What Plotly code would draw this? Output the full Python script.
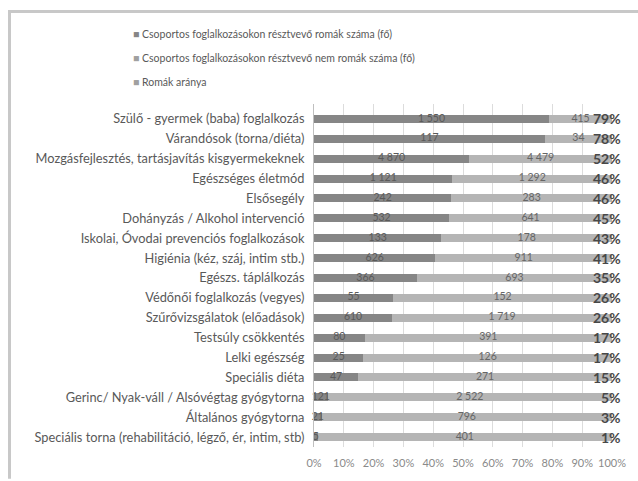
import plotly.graph_objects as go

# Programme types (top to bottom)
categories = [
    "Szülő - gyermek (baba) foglalkozás",
    "Várandósok (torna/diéta)",
    "Mozgásfejlesztés, tartásjavítás kisgyermekeknek",
    "Egészséges életmód",
    "Elsősegély",
    "Dohányzás / Alkohol intervenció",
    "Iskolai, Óvodai prevenciós foglalkozások",
    "Higiénia (kéz, száj, intim stb.)",
    "Egészs. táplálkozás",
    "Védőnői foglalkozás (vegyes)",
    "Szűrővizsgálatok (előadások)",
    "Testsúly csökkentés",
    "Lelki egészség",
    "Speciális diéta",
    "Gerinc/ Nyak-váll / Alsóvégtag gyógytorna",
    "Általános gyógytorna",
    "Speciális torna (rehabilitáció, légző, ér, intim, stb)",
]

# Participants in group sessions (persons)
roma_count = [1550, 117, 4870, 1121, 242, 532, 133, 626, 366, 55, 610, 80, 25, 47, 121, 21, 5]
non_roma_count = [415, 34, 4479, 1292, 283, 641, 178, 911, 693, 152, 1719, 391, 126, 271, 2522, 796, 401]

# Share of Roma participants (%)
roma_share = [79, 78, 52, 46, 46, 45, 43, 41, 35, 26, 26, 17, 17, 15, 5, 3, 1]

series_names = [
    "Csoportos foglalkozásokon résztvevő romák száma (fő)",
    "Csoportos foglalkozásokon résztvevő nem romák száma (fő)",
    "Romák aránya",
]

tick_values = [0, 10, 20, 30, 40, 50, 60, 70, 80, 90, 100]
tick_labels = ["0%", "10%", "20%", "30%", "40%", "50%", "60%", "70%", "80%", "90%", "100%"]

DARK = "#868686"
LIGHT = "#b5b5b5"
SHARE = "#a0a0a0"
TEXT = "#595959"
FONT = "Lato"


def fmt(v):
    return f"{v:,}".replace(",", " ")


totals = [a + b for a, b in zip(roma_count, non_roma_count)]
# centre of each stacked segment on the 0-100 % scale
roma_mid = [50 * a / t for a, t in zip(roma_count, totals)]
non_roma_mid = [100 * (a + b / 2) / t for a, b, t in zip(roma_count, non_roma_count, totals)]

fig = go.Figure()
fig.add_trace(go.Bar(
    y=categories, x=roma_count, orientation="h", name=series_names[0],
    marker=dict(color=DARK, line=dict(width=0)), showlegend=False,
))
fig.add_trace(go.Bar(
    y=categories, x=non_roma_count, orientation="h", name=series_names[1],
    marker=dict(color=LIGHT, line=dict(width=0)), showlegend=False,
))

# Count labels centred in each segment
fig.add_trace(go.Scatter(
    x=roma_mid, y=categories, mode="text", text=[fmt(v) for v in roma_count],
    textposition="middle center", cliponaxis=False, hoverinfo="skip",
    textfont=dict(size=10.5, color="#5a5a5a", family=FONT), showlegend=False,
))
fig.add_trace(go.Scatter(
    x=non_roma_mid, y=categories, mode="text", text=[fmt(v) for v in non_roma_count],
    textposition="middle center", cliponaxis=False, hoverinfo="skip",
    textfont=dict(size=10.5, color="#666666", family=FONT), showlegend=False,
))

# Share labels at the right end of each bar
annotations = []
for cat, share in zip(categories, roma_share):
    annotations.append(dict(
        x=1.0, xref="paper", y=cat, yref="y", xanchor="right", yanchor="middle",
        xshift=11, text=f"<b>{share}%</b>", showarrow=False,
        font=dict(size=14, color="#484848", family=FONT),
    ))

# Legend block
legend_colors = [DARK, SHARE, SHARE]
for i, (name, col) in enumerate(zip(series_names, legend_colors)):
    annotations.append(dict(
        x=(131 - 314) / 298, xref="paper", y=1.0, yref="paper", xanchor="left", yanchor="middle",
        yshift=70 - i * 24,
        text=f"<span style='color:{col}'>■</span> {name}", showarrow=False,
        font=dict(size=10.5, color=TEXT, family=FONT),
    ))

fig.update_layout(
    width=638, height=481,
    barmode="stack", barnorm="percent", bargap=0.6,
    margin=dict(l=314, r=26, t=104, b=30),
    paper_bgcolor="white", plot_bgcolor="white",
    showlegend=False,
    font=dict(family=FONT, size=12, color=TEXT),
    annotations=annotations,
    shapes=[
        # frame lines along the top and left edges of the page
        dict(type="line", xref="paper", yref="paper",
             x0=(9.5 - 314) / 298, x1=(640 - 314) / 298,
             y0=1 + (104 - 10.5) / 347, y1=1 + (104 - 10.5) / 347,
             line=dict(color="#c8c8c8", width=3)),
        dict(type="line", xref="paper", yref="paper",
             x0=(9.5 - 314) / 298, x1=(9.5 - 314) / 298,
             y0=1 + (104 - 9) / 347, y1=-(32) / 347,
             line=dict(color="#c8c8c8", width=3)),
    ],
)
fig.update_xaxes(
    range=[0, 100], tickvals=tick_values, ticktext=tick_labels,
    showgrid=True, gridcolor="#dcdcdc", gridwidth=1, zeroline=False,
    showline=False, tickfont=dict(size=11, color="#8a8a8a", family=FONT),
    ticks="", ticklabelstandoff=8, fixedrange=True,
)
fig.update_yaxes(
    categoryorder="array", categoryarray=categories,
    range=[16.5, -0.75], showgrid=False, zeroline=False,
    showline=True, linecolor="#bfbfbf", linewidth=1,
    ticks="", ticklabelstandoff=6,
    tickfont=dict(size=12.8, color=TEXT, family=FONT),
)

fig.write_html("out.html")
